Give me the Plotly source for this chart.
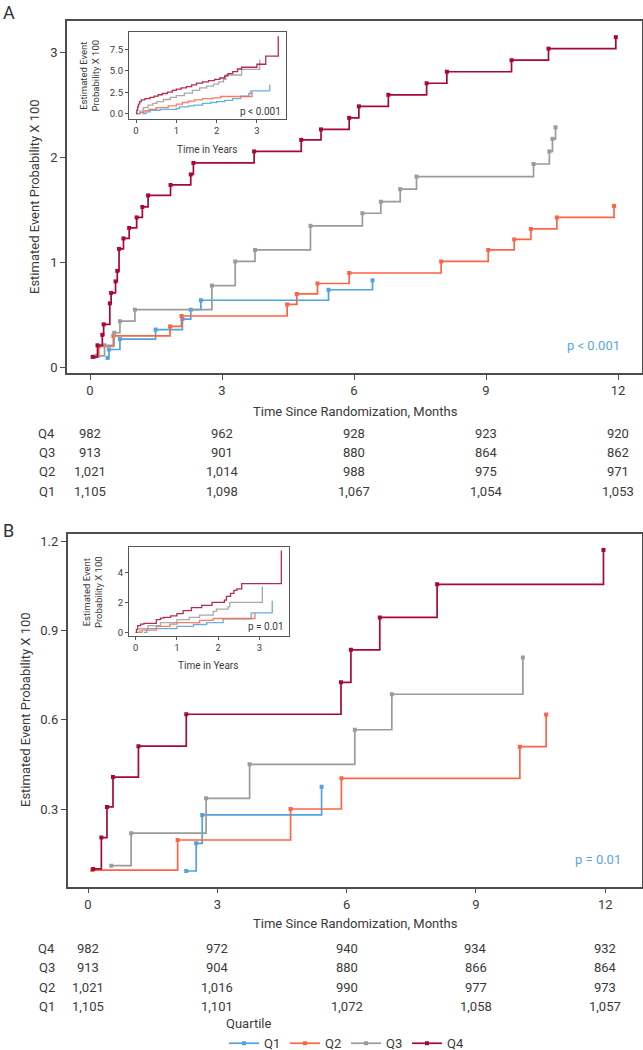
import plotly.graph_objects as go

W, H = 643, 1050
FONT = "Roboto, Liberation Sans, sans-serif"
TXT = "#3a3a3a"

def fx(p):
    return p / W

def fy(p):
    return 1 - p / H

quartiles = ["Q1", "Q2", "Q3", "Q4"]
colors = {"Q1": "#4fa3de", "Q2": "#fd6446", "Q3": "#9b9b9b", "Q4": "#a8063f"}

# ---------------- Panel A main (months, estimated event probability x100)
a_t = {
    "Q1": [0.40, 0.43, 0.68, 1.49, 2.10, 2.29, 2.52, 5.42, 6.42],
    "Q2": [0.10, 0.20, 0.53, 1.82, 2.08, 4.48, 4.70, 5.17, 5.89, 7.98, 9.05, 9.64, 10.02, 10.61, 11.91],
    "Q3": [0.15, 0.33, 0.55, 0.68, 1.02, 2.77, 3.30, 3.75, 5.01, 6.19, 6.61, 7.05, 7.42, 10.08, 10.44, 10.51, 10.58],
    "Q4": [0.06, 0.17, 0.28, 0.31, 0.45, 0.48, 0.58, 0.62, 0.66, 0.76, 0.89, 1.06, 1.19, 1.32, 1.83, 2.29, 2.35,
           3.73, 4.80, 5.25, 5.89, 6.11, 6.78, 7.65, 8.11, 9.58, 10.42, 11.95],
}
a_v = {
    "Q1": [0.09, 0.17, 0.27, 0.36, 0.46, 0.55, 0.64, 0.74, 0.83],
    "Q2": [0.10, 0.20, 0.30, 0.39, 0.49, 0.60, 0.70, 0.80, 0.90, 1.01, 1.12, 1.22, 1.32, 1.43, 1.54],
    "Q3": [0.11, 0.21, 0.33, 0.44, 0.55, 0.78, 1.01, 1.12, 1.35, 1.47, 1.58, 1.70, 1.82, 1.94, 2.06, 2.18, 2.29],
    "Q4": [0.10, 0.21, 0.31, 0.41, 0.61, 0.71, 0.82, 0.92, 1.13, 1.23, 1.33, 1.43, 1.53, 1.64, 1.74, 1.84, 1.95,
           2.06, 2.17, 2.27, 2.38, 2.49, 2.60, 2.71, 2.82, 2.93, 3.04, 3.15],
}

# ---------------- Panel A inset (years)
ai_t = {
    "Q1": [0.15, 0.25, 0.35, 0.6, 1.0, 1.08, 1.3, 1.45, 1.65, 1.85, 2.0, 2.2, 2.4, 2.6, 2.8, 2.85, 3.32],
    "Q2": [0.0, 0.1, 0.2, 0.32, 0.5, 0.8, 1.0, 1.15, 1.3, 1.45, 1.65, 1.9, 2.1, 2.88],
    "Q3": [0.03, 0.1, 0.18, 0.3, 0.42, 0.52, 0.68, 0.85, 1.0, 1.2, 1.4, 1.58, 1.75, 1.92, 2.05, 2.17, 2.23, 2.62, 3.07],
    "Q4": [0.0, 0.02, 0.04, 0.06, 0.09, 0.13, 0.22, 0.35, 0.45, 0.55, 0.65, 0.78, 0.9, 1.0, 1.12, 1.25, 1.38, 1.5,
           1.65, 1.8, 1.95, 2.08, 2.2, 2.28, 2.4, 2.52, 2.62, 3.0, 3.22, 3.53],
}
ai_v = {
    "Q1": [0.0, 0.2, 0.4, 0.5, 0.6, 0.8, 0.9, 1.0, 1.2, 1.3, 1.4, 1.55, 1.75, 2.05, 2.35, 2.65, 3.4],
    "Q2": [0.0, 0.15, 0.35, 0.5, 0.7, 0.9, 1.1, 1.3, 1.45, 1.6, 1.75, 1.85, 2.0, 2.55],
    "Q3": [0.0, 0.3, 0.7, 1.0, 1.2, 1.4, 1.65, 1.9, 2.1, 2.4, 2.7, 3.0, 3.2, 3.45, 3.7, 4.0, 4.5, 5.15, 6.3],
    "Q4": [0.0, 0.4, 0.8, 1.1, 1.4, 1.6, 1.75, 1.9, 2.05, 2.2, 2.35, 2.5, 2.7, 2.85, 3.0, 3.15, 3.35, 3.55,
           3.7, 3.85, 4.0, 4.15, 4.4, 4.65, 4.9, 5.2, 5.4, 5.75, 6.7, 9.0],
}

# ---------------- Panel B main (months)
b_t = {
    "Q1": [2.28, 2.51, 2.65, 5.42],
    "Q2": [0.10, 2.08, 4.70, 5.88, 10.02, 10.63],
    "Q3": [0.54, 1.00, 2.74, 3.75, 6.19, 7.05, 10.09],
    "Q4": [0.12, 0.31, 0.44, 0.58, 1.17, 2.28, 5.87, 6.10, 6.77, 8.10, 11.96],
}
b_v = {
    "Q1": [0.093, 0.186, 0.281, 0.376],
    "Q2": [0.096, 0.197, 0.301, 0.404, 0.510, 0.618],
    "Q3": [0.111, 0.220, 0.337, 0.451, 0.567, 0.686, 0.809],
    "Q4": [0.100, 0.205, 0.308, 0.408, 0.512, 0.619, 0.726, 0.835, 0.944, 1.055, 1.170],
}

# ---------------- Panel B inset (years)
bi_t = {
    "Q1": [0.2, 0.27, 1.0, 1.4, 1.72, 2.12, 2.8, 3.31],
    "Q2": [0.0, 0.15, 0.5, 0.83, 1.0, 1.55, 1.88, 2.89],
    "Q3": [0.05, 0.1, 0.3, 0.6, 1.0, 1.3, 1.55, 1.88, 1.96, 2.24, 2.28, 3.07],
    "Q4": [0.0, 0.02, 0.05, 0.12, 0.2, 0.5, 0.6, 0.68, 0.85, 1.0, 1.15, 1.35, 1.6, 1.85, 2.15, 2.2, 2.3, 2.38,
           2.45, 2.57, 3.53],
}
bi_v = {
    "Q1": [0.0, 0.25, 0.4, 0.52, 0.65, 0.9, 1.3, 2.1],
    "Q2": [0.0, 0.15, 0.4, 0.55, 0.65, 0.8, 0.92, 1.3],
    "Q3": [0.0, 0.25, 0.45, 0.65, 0.85, 1.0, 1.15, 1.4, 1.55, 1.7, 2.0, 3.05],
    "Q4": [0.0, 0.2, 0.45, 0.55, 0.6, 0.85, 0.95, 1.0, 1.1, 1.25, 1.45, 1.65, 1.8, 2.0, 2.15, 2.4, 2.6, 2.8,
           2.9, 3.25, 5.45],
}

# ---------------- Numbers at risk
risk_months = [0, 3, 6, 9, 12]
row_order = ["Q4", "Q3", "Q2", "Q1"]
a_risk = {
    "Q4": ["982", "962", "928", "923", "920"],
    "Q3": ["913", "901", "880", "864", "862"],
    "Q2": ["1,021", "1,014", "988", "975", "971"],
    "Q1": ["1,105", "1,098", "1,067", "1,054", "1,053"],
}
b_risk = {
    "Q4": ["982", "972", "940", "934", "932"],
    "Q3": ["913", "904", "880", "866", "864"],
    "Q2": ["1,021", "1,016", "990", "977", "973"],
    "Q1": ["1,105", "1,101", "1,072", "1,058", "1,057"],
}

fig = go.Figure()

for q in quartiles:
    fig.add_trace(go.Scatter(
        x=a_t[q], y=a_v[q], mode="lines+markers", line_shape="hv", name=q,
        line=dict(color=colors[q], width=1.7), marker=dict(symbol="square", size=4, color=colors[q]),
        xaxis="x", yaxis="y", legendgroup=q, showlegend=True))
for q in quartiles:
    fig.add_trace(go.Scatter(
        x=b_t[q], y=b_v[q], mode="lines+markers", line_shape="hv", name=q,
        line=dict(color=colors[q], width=1.7), marker=dict(symbol="square", size=4, color=colors[q]),
        xaxis="x2", yaxis="y2", legendgroup=q, showlegend=False))
for q in quartiles:
    fig.add_trace(go.Scatter(
        x=ai_t[q], y=ai_v[q], mode="lines", line_shape="hv", name=q, opacity=0.85,
        line=dict(color=colors[q], width=1.3), xaxis="x3", yaxis="y3", showlegend=False))
for q in quartiles:
    fig.add_trace(go.Scatter(
        x=bi_t[q], y=bi_v[q], mode="lines", line_shape="hv", name=q, opacity=0.85,
        line=dict(color=colors[q], width=1.3), xaxis="x4", yaxis="y4", showlegend=False))

main_ax = dict(showline=True, mirror=True, linecolor="#4d4d4d", linewidth=1.5, ticks="outside",
               ticklen=5, tickcolor="#4d4d4d", tickwidth=1.2, showgrid=False, zeroline=False,
               tickfont=dict(family=FONT, size=13, color=TXT))
ins_ax = dict(showline=True, mirror=True, linecolor="#555555", linewidth=1.1, ticks="outside",
              ticklen=3, tickcolor="#555555", showgrid=False, zeroline=False,
              tickfont=dict(family=FONT, size=9.5, color=TXT))

layout = dict(
    width=W, height=H, autosize=False, margin=dict(l=0, r=0, t=0, b=0, autoexpand=False),
    paper_bgcolor="white", plot_bgcolor="white",
    font=dict(family=FONT, color=TXT),
    xaxis=dict(main_ax, domain=[fx(67), fx(642)], range=[-0.523, 12.545], tickvals=risk_months, anchor="y"),
    yaxis=dict(main_ax, domain=[fy(373), fy(21)], range=[-0.054, 3.304], tickvals=[0, 1, 2, 3], anchor="x"),
    xaxis2=dict(main_ax, domain=[fx(67.7), fx(642)], range=[-0.471, 12.854], tickvals=risk_months, anchor="y2"),
    yaxis2=dict(main_ax, domain=[fy(886.7), fy(534)], range=[0.0403, 1.2238], tickvals=[0.3, 0.6, 0.9, 1.2],
                tickformat=".1f", anchor="x2"),
    xaxis3=dict(ins_ax, domain=[fx(129), fx(286)], range=[-0.174, 3.722], tickvals=[0, 1, 2, 3], anchor="y3"),
    yaxis3=dict(ins_ax, domain=[fy(119), fy(32.3)], range=[-0.62, 9.47], tickvals=[0, 2.5, 5, 7.5],
                tickformat=".1f", anchor="x3"),
    xaxis4=dict(ins_ax, domain=[fx(129), fx(288.5)], range=[-0.162, 3.704], tickvals=[0, 1, 2, 3], anchor="y4"),
    yaxis4=dict(ins_ax, domain=[fy(636), fy(547.3)], range=[-0.247, 5.667], tickvals=[0, 2, 4], anchor="x4"),
    legend=dict(orientation="h", x=fx(224), y=-0.008, xanchor="left", yanchor="bottom",
                title=dict(text="Quartile", side="top", font=dict(family=FONT, size=13, color=TXT)),
                font=dict(family=FONT, size=13, color=TXT), bgcolor="rgba(0,0,0,0)",
                tracegroupgap=0, itemwidth=30, entrywidth=16, entrywidthmode="pixels"),
    showlegend=True,
)
fig.update_layout(**layout)


def note(text, px, py, size, color=TXT, xanchor="center", yanchor="middle", angle=0, xref="paper", x=None):
    return dict(text=text, x=fx(px) if x is None else x, y=fy(py), xref=xref, yref="paper",
                xanchor=xanchor, yanchor=yanchor, textangle=angle, showarrow=False,
                font=dict(family=FONT, size=size, color=color))


ann = []
ann.append(note("A", 1, 0, 18, "#333333", xanchor="left", yanchor="top"))
ann.append(note("B", 1, 518, 18, "#333333", xanchor="left", yanchor="top"))
ytitle = "Estimated Event Probability X 100"
ann.append(note(ytitle, 35, 197, 13, angle=-90))
ann.append(note(ytitle, 25, 710, 13, angle=-90))
xtitle = "Time Since Randomization, Months"
ann.append(note(xtitle, 355, 411, 13))
ann.append(note(xtitle, 355, 923.3, 13))
ann.append(note("p < 0.001", 593, 345.7, 13, "#5aa6e0"))
ann.append(note("p = 0.01", 597.7, 859, 13, "#5aa6e0"))
ins_y = "Estimated Event<br>Probability X 100"
ann.append(note(ins_y, 88.5, 76, 9.5, angle=-90))
ann.append(note(ins_y, 92, 592, 9.5, angle=-90))
ann.append(note("Time in Years", 207, 150, 10))
ann.append(note("Time in Years", 208, 665, 10))
ann.append(note("p < 0.001", 283, 111, 10, xanchor="right"))
ann.append(note("p = 0.01", 286, 626.7, 10, xanchor="right"))

a_rows_y = [433.3, 452.7, 471.7, 491.0]
b_rows_y = [948.3, 967.7, 987.0, 1006.7]
for rows_y, risk, xr in [(a_rows_y, a_risk, "x"), (b_rows_y, b_risk, "x2")]:
    for q, py in zip(row_order, rows_y):
        ann.append(note(q, 57, py, 13, xanchor="right"))
        for m, val in zip(risk_months, risk[q]):
            ann.append(note(val, 0, py, 13, xref=xr, x=m))

fig.update_layout(annotations=ann)
fig.write_html("out.html", config={"displayModeBar": False},
               post_script="document.body.style.margin='0';document.body.style.padding='0';"
                           "document.documentElement.style.overflow='hidden';")
